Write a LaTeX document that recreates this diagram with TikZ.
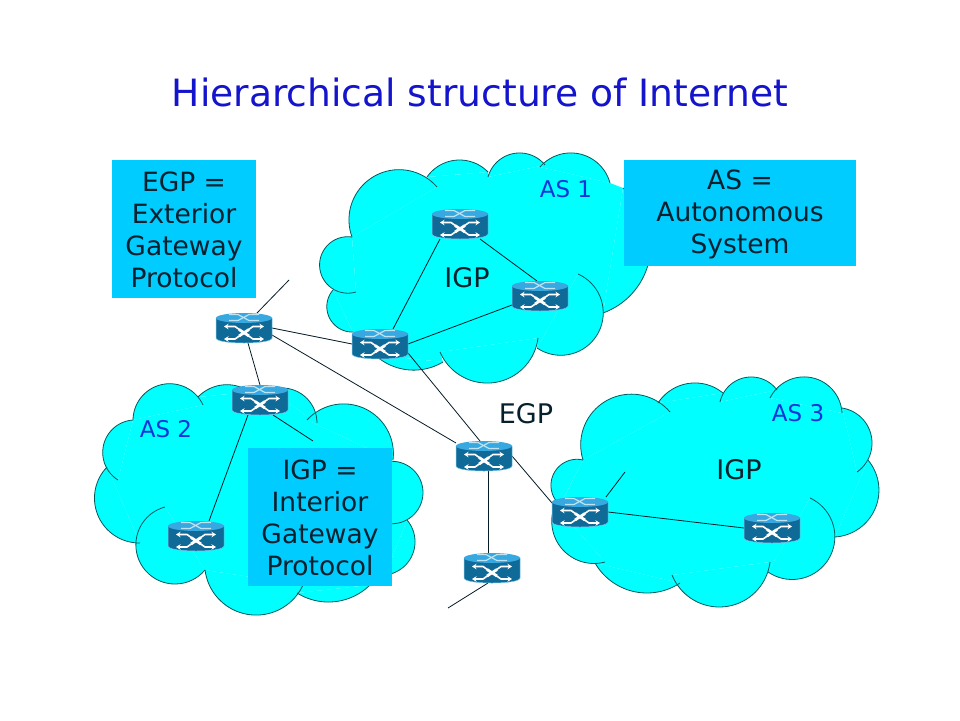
\documentclass[tikz,border=0pt]{standalone}
\usepackage{fontspec}
\setmainfont{DejaVu Sans}
\usetikzlibrary{arrows.meta}
\definecolor{cloudcol}{HTML}{00FFFF}
\definecolor{cloudedge}{HTML}{04585C}
\definecolor{boxcol}{HTML}{00CCFF}
\definecolor{titlecol}{HTML}{1414CC}
\definecolor{ascol}{HTML}{1034D8}
\definecolor{inkcol}{HTML}{06202E}
\definecolor{rbody}{HTML}{106A98}
\definecolor{rtop}{HTML}{38A8E0}
\definecolor{redge}{HTML}{7CC8E8}
% circular arc through A, M, B
\newcommand\lobearc[6]{%
  \pgfmathsetmacro\lux{(#3-#1)/10}%
  \pgfmathsetmacro\luy{(#4-#2)/10}%
  \pgfmathsetmacro\lvx{(#5-#1)/10}%
  \pgfmathsetmacro\lvy{(#6-#2)/10}%
  \pgfmathsetmacro\lD{2*(\lux*\lvy-\luy*\lvx)}%
  \pgfmathsetmacro\lUU{\lux*\lux+\luy*\luy}%
  \pgfmathsetmacro\lVV{\lvx*\lvx+\lvy*\lvy}%
  \pgfmathsetmacro\lcx{(\lvy*\lUU-\luy*\lVV)/\lD}%
  \pgfmathsetmacro\lcy{(\lux*\lVV-\lvx*\lUU)/\lD}%
  \pgfmathsetmacro\lr{10*sqrt(\lcx*\lcx+\lcy*\lcy)}%
  \pgfmathsetmacro\lga{atan2(-\lcy,-\lcx)}%
  \pgfmathsetmacro\lgm{atan2(\luy-\lcy,\lux-\lcx)}%
  \pgfmathsetmacro\lgb{atan2(\lvy-\lcy,\lvx-\lcx)}%
  \pgfmathsetmacro\ldm{Mod(\lgm-\lga,360)}%
  \pgfmathsetmacro\ldb{Mod(\lgb-\lga,360)}%
  \pgfmathsetmacro\lend{\ldm<\ldb ? \lga+\ldb : \lga+\ldb-360}%
  \pgfmathsetmacro\lox{#1+10*\lcx}%
  \pgfmathsetmacro\loy{#2+10*\lcy}%
  \path[lobestyle] plot[domain=\lga:\lend,samples=36,variable=\lvar]
    ({\lox+\lr*cos(\lvar)},{\loy+\lr*sin(\lvar)});%
}
\newcommand\lobecollect[6]{\xdef\polypts{\polypts (#1,#2) -- (#5,#6) -- }}
\let\lobe\lobearc
\newcommand\corefill[1]{%
  \gdef\polypts{}\let\lobe\lobecollect #1\let\lobe\lobearc
  \fill[coreshape] \polypts cycle;%
}
\newcommand\cloudone{%
  \lobe{352}{237}{320}{260}{356}{292}%
  \lobe{333}{290}{332}{322}{353}{332}%
  \lobe{375}{355}{410}{370}{443}{362}%
  \lobe{440}{352}{490}{383}{538}{338}%
  \lobe{537}{348}{595}{338}{578}{274}%
  \lobe{603}{313}{648}{265}{623}{188}%
  \lobe{610}{183}{573}{153}{540}{167}%
  \lobe{545}{165}{518}{153}{488}{177}%
  \lobe{488}{172}{460}{160}{427}{177}%
  \lobe{437}{187}{365}{183}{352}{237}%
}
\newcommand\cloudtwo{%
  \lobe{133}{420}{103}{448}{118}{480}%
  \lobe{107}{467}{102}{523}{140}{543}%
  \lobe{165}{507}{150}{575}{205}{570}%
  \lobe{205}{570}{253}{615}{303}{585}%
  \lobe{297}{593}{330}{602}{370}{585}%
  \lobe{385}{575}{415}{543}{407}{520}%
  \lobe{385}{523}{423}{492}{385}{462}%
  \lobe{393}{460}{375}{415}{307}{420}%
  \lobe{317}{423}{300}{393}{270}{390}%
  \lobe{250}{392}{222}{385}{198}{397}%
  \lobe{203}{405}{160}{385}{133}{420}%
}
\newcommand\cloudthree{%
  \lobe{583}{460}{552}{478}{560}{505}%
  \lobe{555}{505}{565}{552}{605}{562}%
  \lobe{595}{563}{647}{593}{680}{583}%
  \lobe{672}{575}{720}{607}{770}{562}%
  \lobe{768}{572}{828}{560}{810}{498}%
  \lobe{835}{537}{873}{513}{868}{460}%
  \lobe{857}{472}{872}{442}{842}{408}%
  \lobe{842}{413}{807}{377}{770}{398}%
  \lobe{777}{390}{750}{377}{720}{402}%
  \lobe{723}{393}{693}{383}{658}{403}%
  \lobe{670}{412}{600}{405}{583}{460}%
}
\tikzset{
  x=1pt,y=-1pt,
  lobestyle/.style={},
  lobefill/.style={lobestyle/.style={fill=cloudcol}},
  lobeline/.style={lobestyle/.style={draw=cloudedge,line width=0.8pt}},
  coreshape/.style={fill=cloudcol},
  link/.style={draw=inkcol!85!black,line width=0.8pt},
  routerbox/.style={minimum width=56pt,minimum height=30pt,inner sep=0pt,outer sep=0pt},
  infobox/.style={fill=boxcol,inner sep=0pt},
  infotext/.style={inner sep=0pt,text=inkcol,align=center,
    font=\fontsize{26.5}{32}\selectfont},
  aslabel/.style={text=ascol,inner sep=0pt,font=\fontsize{23}{26}\selectfont},
  proto/.style={text=inkcol,inner sep=0pt,font=\fontsize{27}{30}\selectfont},
  rarrow/.style={draw=white,line width=1.6pt,{Stealth[length=4.5pt,width=5.5pt]}-{Stealth[length=4.5pt,width=5.5pt]}},
  router/.pic={
    \fill[rbody] (-28,-10) -- (-28,10) .. controls (-28,13) and (-16,15) .. (0,15)
      .. controls (16,15) and (28,13) .. (28,10) -- (28,-10) -- cycle;
    \draw[redge,line width=0.5pt] (-28,-10) -- (-28,10) .. controls (-28,13) and (-16,15) .. (0,15)
      .. controls (16,15) and (28,13) .. (28,10) -- (28,-10);
    \fill[rtop] (0,-10) ellipse [x radius=28pt,y radius=5pt];
    \draw[line width=1.2pt,draw=redge!50!white] (-15,-13.5) -- (-6,-13.5) -- (5,-7.5) -- (15,-7.5)
      (-15,-7.5) -- (-6,-7.5) -- (5,-13.5) -- (15,-13.5);
    \draw[rarrow] (-20,-1.5) -- (-9,-1.5) -- (9,11) -- (20,11);
    \draw[rarrow] (-20,11) -- (-9,11) -- (9,-1.5) -- (20,-1.5);
    \draw[white,line width=2.8pt] (-5,1.5) -- (5,8) (-5,8) -- (5,1.5);
  }
}
\begin{document}
\begin{tikzpicture}
\useasboundingbox (0,0) rectangle (960,720);
\fill[white] (0,0) rectangle (960,720);
% clouds
\begin{scope}[lobefill]
  \cloudone \cloudtwo \cloudthree
\end{scope}
\corefill{\cloudone}
\corefill{\cloudtwo}
\corefill{\cloudthree}
\begin{scope}[lobeline]
  \cloudone \cloudtwo \cloudthree
\end{scope}
% router anchors
\node[routerbox] (r1) at (244,328) {};
\node[routerbox] (r2) at (380,344) {};
\node[routerbox] (r3) at (260,400) {};
\node[routerbox] (r4) at (460,224) {};
\node[routerbox] (r5) at (540,296) {};
\node[routerbox] (r6) at (484,456) {};
\node[routerbox] (r7) at (580,512) {};
\node[routerbox] (r8) at (772,528) {};
\node[routerbox] (r9) at (492,568) {};
\node[routerbox] (r10) at (196,536) {};
\coordinate (f1) at (289,280);
\coordinate (f3) at (313,441);
\coordinate (f7) at (625,472);
\coordinate (f9) at (448,608);
% connectors
\draw[link] ([xshift=13pt]r1.north) -- (f1);
\draw[link] (r1.east) -- (r2.west);
\draw[link] ([xshift=4pt]r1.south) -- (r3.north);
\draw[link] ([yshift=-7pt]r1.east) -- ([yshift=13pt]r6.west);
\draw[link] ([xshift=13pt]r2.north) -- ([xshift=-20pt]r4.south);
\draw[link] (r2.east) -- ([yshift=-9pt]r5.west);
\draw[link] ([xshift=20pt]r4.south) -- ([xshift=-3pt]r5.north);
\draw[link] ([yshift=-9pt]r2.east) -- ([xshift=-4pt]r6.north);
\draw[link] ([xshift=-12pt]r3.south) -- ([xshift=13pt]r10.north);
\draw[link] ([xshift=13pt]r3.south) -- (f3);
\draw[link] (r6.east) -- ([yshift=9pt]r7.west);
\draw[link] ([xshift=4pt]r6.south) -- ([xshift=-4pt]r9.north);
\draw[link] (r7.east) -- (r8.west);
\draw[link] ([xshift=26pt]r7.north) -- (f7);
\draw[link] ([xshift=-4pt]r9.south) -- (f9);
% routers
\foreach \rx/\ry in {244/328,380/344,260/400,460/224,540/296,484/456,580/512,772/528,492/568,196/536}
  \pic at (\rx,\ry) {router};
% boxes
\node[infobox,minimum width=144pt,minimum height=138pt] (egpbox) at (184,229) {};
\node[infobox,minimum width=232pt,minimum height=106pt] (asbox) at (740,213) {};
\node[infobox,minimum width=144pt,minimum height=138pt] (igpbox) at (320,517) {};
\node[infotext] (egptext) at (184,229.7) {EGP =\\Exterior\\Gateway\\Protocol};
\node[infotext] (astext) at (740,214.8) {AS =\\Autonomous\\System};
\node[infotext] (igptext) at (320,517.7) {IGP =\\Interior\\Gateway\\Protocol};
% labels
\node[text=titlecol,inner sep=0pt,font=\fontsize{37.6}{42}\selectfont] (title) at (480,92) {Hierarchical structure of Internet};
\node[aslabel] (as1) at (566,189) {AS 1};
\node[aslabel] (as2) at (166,429) {AS 2};
\node[aslabel] (as3) at (798,413) {AS 3};
\node[proto] (igp1) at (467,278) {IGP};
\node[proto] (igp3) at (739,470) {IGP};
\node[proto] (egp) at (526,414) {EGP};
\end{tikzpicture}
\end{document}
